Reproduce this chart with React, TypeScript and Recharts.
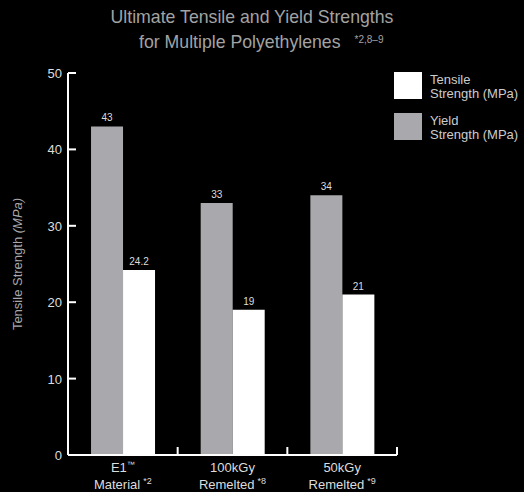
import { BarChart, Bar, XAxis, YAxis, LabelList } from "recharts";

const materials = ["E1™", "100kGy", "50kGy"];
const materialSub = ["Material", "Remelted", "Remelted"];
const notes = ["*2", "*8", "*9"];
const yieldStrength = [43, 33, 34];
const tensileStrength = [24.2, 19, 21];
const yTicks = [0, 10, 20, 30, 40, 50];

const data = materials.map((name, i) => ({
  name,
  sub: materialSub[i],
  note: notes[i],
  yield: yieldStrength[i],
  tensile: tensileStrength[i],
}));

const FONT = "'Liberation Sans', Arial, Helvetica, sans-serif";
const GRAY = "#a9a9ad";

function XTick(props: any) {
  const { x, y, payload, index } = props;
  const half = payload && payload.offset ? payload.offset : 0;
  const row = data[index] || data[0];
  const hasTm = row.name.endsWith("™");
  const base = hasTm ? row.name.slice(0, -1) : row.name;
  return (
    <g>
      <line x1={x + half} x2={x + half} y1={y} y2={y - 8} stroke="#fff" strokeWidth={2} />
      <text x={x} y={y + 17} textAnchor="middle" fill="#ddd" fontSize={13} fontFamily={FONT}>
        {base}
        {hasTm && (
          <tspan fontSize={8} dy={-5}>
            ™
          </tspan>
        )}
      </text>
      <text x={x} y={y + 34} textAnchor="middle" fill="#ddd" fontSize={13} fontFamily={FONT}>
        {row.sub}
        <tspan fontSize={9} dx={3} dy={-5}>{row.note}</tspan>
      </text>
    </g>
  );
}

function YTick(props: any) {
  const { x, y, payload } = props;
  return (
    <g>
      <line x1={x} x2={x + 8} y1={y} y2={y} stroke="#fff" strokeWidth={2} />
      <text x={x - 6} y={y} dy={5} textAnchor="end" fill="#ddd" fontSize={13} fontFamily={FONT}>
        {payload.value}
      </text>
    </g>
  );
}

function YLabel(props: any) {
  const vb = props.viewBox || { x: 0, y: 73, width: 68, height: 382 };
  const cx = 17;
  const cy = vb.y + vb.height / 2;
  return (
    <text
      x={cx}
      y={cy}
      textAnchor="middle"
      dominantBaseline="central"
      transform={`rotate(-90, ${cx}, ${cy})`}
      fill={GRAY}
      fontSize={13}
      fontFamily={FONT}
    >
      Tensile Strength <tspan fontStyle="italic">(MPa)</tspan>
    </text>
  );
}

const legendItems = [
  { color: "#fff", lines: ["Tensile", "Strength (MPa)"] },
  { color: GRAY, lines: ["Yield", "Strength (MPa)"] },
];

export default function App() {
  return (
    <div
      style={{
        position: "absolute",
        left: 0,
        top: 0,
        width: 524,
        height: 492,
        background: "#000",
        fontFamily: FONT,
        overflow: "hidden",
      }}
    >
      <BarChart
        width={524}
        height={492}
        data={data}
        margin={{ top: 73, right: 127, bottom: 0, left: 0 }}
        barCategoryGap="21%"
        barGap={0}
      >
        <XAxis
          dataKey="name"
          height={37}
          axisLine={{ stroke: "#fff", strokeWidth: 2 }}
          tickLine={false}
          tickSize={0}
          tickMargin={0}
          tick={<XTick />}
          interval={0}
        />
        <YAxis
          width={68}
          domain={[0, 50]}
          ticks={yTicks}
          axisLine={{ stroke: "#fff", strokeWidth: 2 }}
          tickLine={false}
          tickSize={0}
          tickMargin={0}
          tick={<YTick />}
          label={<YLabel />}
        />
        <Bar dataKey="yield" fill={GRAY} isAnimationActive={false}>
          <LabelList dataKey="yield" position="top" offset={5} fill="#ddd" fontSize={10} fontFamily={FONT} />
        </Bar>
        <Bar dataKey="tensile" fill="#fff" isAnimationActive={false}>
          <LabelList dataKey="tensile" position="top" offset={5} fill="#ddd" fontSize={10} fontFamily={FONT} />
        </Bar>
      </BarChart>

      <div
        style={{
          position: "absolute",
          left: 0,
          width: 504,
          top: 6,
          textAlign: "center",
          color: "#a3a3a3",
          fontSize: 17.7,
          lineHeight: "22px",
        }}
      >
        Ultimate Tensile and Yield Strengths
      </div>
      <div
        style={{
          position: "absolute",
          left: 139,
          top: 29,
          color: "#a3a3a3",
          fontSize: 17.7,
          lineHeight: "22px",
          whiteSpace: "nowrap",
        }}
      >
        for Multiple Polyethylenes
        <span style={{ fontSize: 10, marginLeft: 14, verticalAlign: 5 }}>*2,8–9</span>
      </div>

      <div style={{ position: "absolute", left: 394, top: 72 }}>
        {legendItems.map((item) => (
          <div key={item.lines[0]} style={{ display: "flex", alignItems: "flex-start", marginBottom: 12 }}>
            <div style={{ width: 28, height: 27, background: item.color }} />
            <div style={{ marginLeft: 8, marginTop: 1, color: "#ccc", fontSize: 13, lineHeight: "14px" }}>
              {item.lines.map((l) => (
                <div key={l}>{l}</div>
              ))}
            </div>
          </div>
        ))}
      </div>
    </div>
  );
}
